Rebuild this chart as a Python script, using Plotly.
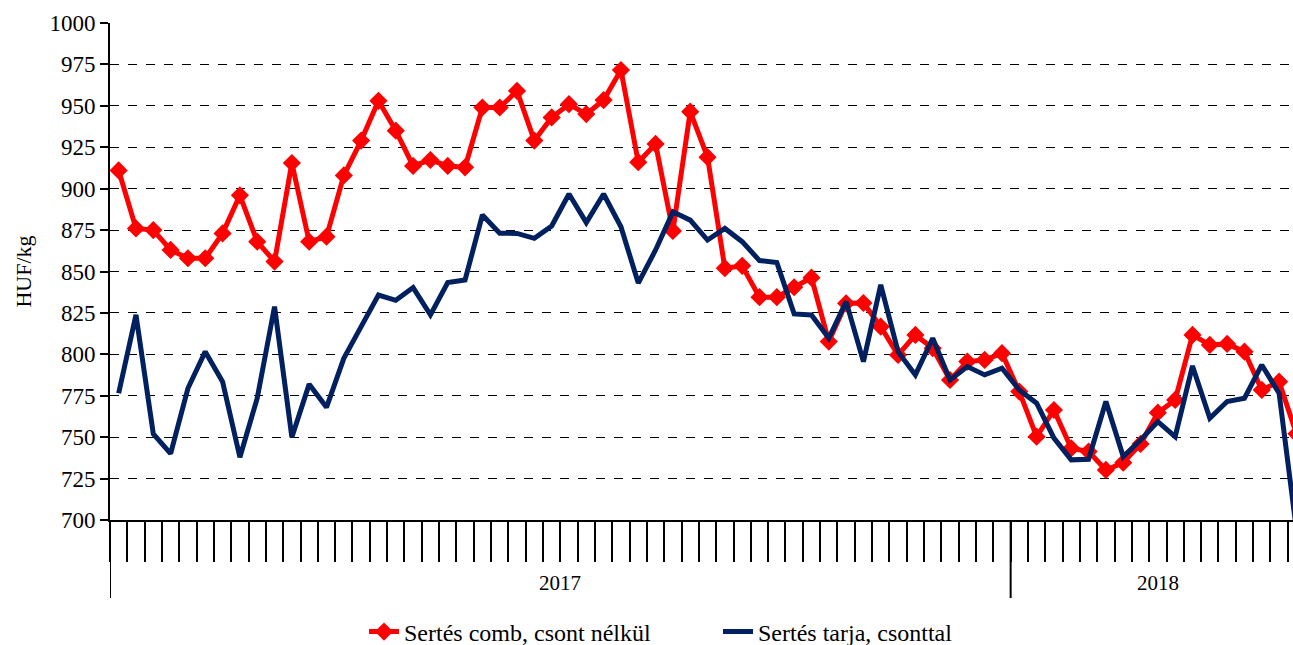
import plotly.graph_objects as go

weeks = [f"2017-{w:02d}" for w in range(1, 53)] + [f"2018-{w:02d}" for w in range(1, 18)]
years = ["2017", "2018"]
year_weeks = [52, 17]

comb = [911, 876, 875, 863, 858, 858, 873, 896, 868, 856,
        915.5, 868, 871, 908, 929, 953, 935, 913.7, 917.3, 913.7,
        912.9, 949, 949, 959, 929, 943, 951, 945, 953.5, 971.6,
        916, 927, 874.5, 946.5, 919, 852, 853.4, 834.5, 834.5, 840.5,
        846.3, 807.7, 830.8, 831, 816.7, 799.6, 811.7, 803.7, 784.5, 795.6,
        796.6, 800.7, 777.5, 750.3, 766.4, 743.3, 741.3, 730.2, 734.6, 745.9,
        764.8, 772.5, 811.7, 805.7, 806.3, 801.6, 778.5, 783.5, 752]

tarja = [776.5, 823.8, 752, 740, 779.5, 801.6, 783.5, 737.9, 773.5, 828.8,
         750, 782, 768, 797.6, 816.7, 835.8, 832.6, 840.3, 823.8, 843.3,
         844.9, 884.1, 873.1, 873, 870, 877.5, 896.8, 879.5, 896.8, 877,
         843, 863, 886, 881, 869, 876, 868, 856.6, 855.4, 824.4,
         823.8, 809.7, 831.8, 795.6, 841.9, 801.6, 787.6, 809.7, 784.5, 792.6,
         787.6, 791.6, 778.5, 770.5, 749.4, 736.3, 736.7, 771.5, 738.3, 748.3,
         759.4, 750.3, 793, 761.4, 771.5, 773.5, 793.6, 776.5, 694]

y_ticks = list(range(700, 1001, 25))

FONT = "Liberation Serif"
x = list(range(len(weeks)))

fig = go.Figure()
fig.add_trace(go.Scatter(
    x=x, y=comb, name="Sertés comb, csont nélkül", mode="lines+markers",
    line=dict(color="#FF0000", width=5),
    marker=dict(symbol="diamond", size=14, color="#FF0000"),
    text=weeks, hoverinfo="text+y"))
fig.add_trace(go.Scatter(
    x=x, y=tarja, name="Sertés tarja, csonttal", mode="lines",
    line=dict(color="#002060", width=5),
    text=weeks, hoverinfo="text+y"))

shapes = []
annotations = []
start = -0.5
bounds = [start]
for yr, n in zip(years, year_weeks):
    end = start + n
    annotations.append(dict(x=(start + end) / 2, y=-0.127, xref="x", yref="paper",
                            text=yr, showarrow=False, yanchor="middle",
                            font=dict(family=FONT, size=21, color="black")))
    bounds.append(end)
    start = end
for b in bounds[:-1]:
    shapes.append(dict(type="line", xref="x", yref="paper", x0=b, x1=b, y0=0, y1=-0.157,
                       line=dict(color="black", width=2)))

fig.update_layout(
    width=1293, height=645,
    margin=dict(l=110, r=0, t=23, b=125, autoexpand=False),
    paper_bgcolor="white", plot_bgcolor="white",
    font=dict(family=FONT, size=21, color="black"),
    shapes=shapes, annotations=annotations,
    showlegend=True,
    legend=dict(orientation="h", x=(364 - 110) / 1183, xanchor="left", y=-0.2254, yanchor="middle",
                font=dict(family=FONT, size=24, color="black"),
                entrywidth=309, entrywidthmode="pixels",
                tracegroupgap=0),
)
fig.update_xaxes(
    range=[-0.5, -0.5 + 1183 / 17.32], automargin=False,
    showgrid=False, zeroline=False,
    showline=True, linecolor="black", linewidth=2,
    tickmode="array", tickvals=[i - 0.5 for i in range(len(weeks) + 1)],
    ticks="outside", ticklen=40, tickwidth=2, tickcolor="black",
    showticklabels=False,
)
fig.update_yaxes(
    range=[700, 1000], automargin=False,
    tickmode="array", tickvals=y_ticks, ticktext=[str(v) for v in y_ticks],
    showgrid=True, gridcolor="black", gridwidth=1, griddash="dash",
    zeroline=False, showline=True, linecolor="black", linewidth=2,
    ticks="outside", ticklen=8, tickwidth=2, tickcolor="black",
    tickfont=dict(family=FONT, size=23, color="black"),
    title=dict(text="HUF/kg", font=dict(family=FONT, size=22, color="black"), standoff=12),
)

fig.write_html("out.html", config={"displayModeBar": False},
               post_script="document.body.style.margin='0px';document.body.style.overflow='hidden';")
